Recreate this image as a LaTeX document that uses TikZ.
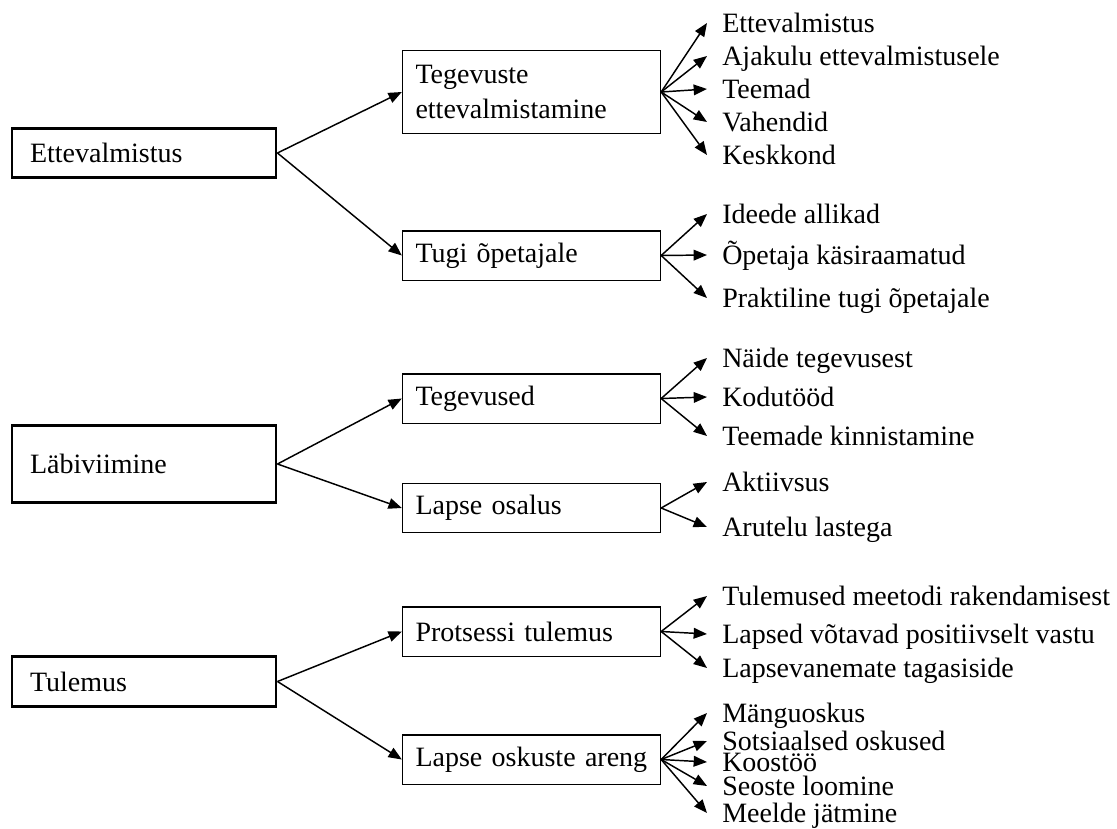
\documentclass[tikz,border=0pt]{standalone}
\usepackage{fontspec}
\setmainfont{Liberation Serif}
\usepackage{tikz}
\usetikzlibrary{arrows.meta}

\tikzset{
  every node/.style={font=\fontsize{21}{26}\selectfont},
  mainbox/.style={draw, line width=2.2pt, text width=171pt, inner xsep=13.5pt, align=left, minimum height=37pt},
  subbox/.style={draw, line width=1pt, text width=174pt, inner xsep=9.75pt, align=left, minimum height=37pt},
  item/.style={anchor=base west, inner xsep=11.25pt, inner ysep=0pt, text height=13.5pt, text depth=0pt},
  conn/.style={-{Triangle[length=10pt,width=8pt]}, line width=1.1pt},
}

\begin{document}
\begin{tikzpicture}[x=0.75pt,y=-0.75pt]
  \useasboundingbox (0,0) rectangle (1117,828);
  % esimene tase
  \node[mainbox] (ettev) at (144,153) {Ettevalmistus};
  \node[mainbox, minimum height=58pt] (labiv) at (144,464) {Läbiviimine};
  \node[mainbox] (tulem) at (144,681.5) {Tulemus};
  % teine tase
  \node[subbox, minimum height=62pt] (tegev) at (531.5,92) {Tegevuste\\ettevalmistamine};
  \node[subbox] (tugi) at (531.5,255.5) {Tugi õpetajale};
  \node[subbox] (tegus) at (531.5,398.5) {Tegevused};
  \node[subbox] (osal) at (531.5,508) {Lapse osalus};
  \node[subbox] (prots) at (531.5,631.5) {Protsessi tulemus};
  \node[subbox] (oskus) at (531.5,759.5) {Lapse oskuste areng};
  \draw[conn] (ettev.east) -- (tegev.west);
  \draw[conn] (ettev.east) -- (tugi.west);
  \draw[conn] (labiv.east) -- (tegus.west);
  \draw[conn] (labiv.east) -- (osal.west);
  \draw[conn] (tulem.east) -- (prots.west);
  \draw[conn] (tulem.east) -- (oskus.west);
  % kolmas tase
  \foreach \i/\y/\t in {1/32/Ettevalmistus, 2/65/Ajakulu ettevalmistusele, 3/98/Teemad, 4/131/Vahendid, 5/164/Keskkond}{
    \node[item] (a\i) at (707,\y) {\t};
    \draw[conn] (tegev.east) -- (a\i.west);
  }
  \foreach \i/\y/\t in {1/223/Ideede allikad, 2/264/Õpetaja käsiraamatud, 3/307/Praktiline tugi õpetajale}{
    \node[item] (b\i) at (707,\y) {\t};
    \draw[conn] (tugi.east) -- (b\i.west);
  }
  \foreach \i/\y/\t in {1/367/Näide tegevusest, 2/406/Kodutööd, 3/445/Teemade kinnistamine}{
    \node[item] (c\i) at (707,\y) {\t};
    \draw[conn] (tegus.east) -- (c\i.west);
  }
  \foreach \i/\y/\t in {1/491/Aktiivsus, 2/536/Arutelu lastega}{
    \node[item] (d\i) at (707,\y) {\t};
    \draw[conn] (osal.east) -- (d\i.west);
  }
  \foreach \i/\y/\t in {1/605/Tulemused meetodi rakendamisest, 2/643/Lapsed võtavad positiivselt vastu, 3/677/Lapsevanemate tagasiside}{
    \node[item] (e\i) at (707,\y) {\t};
    \draw[conn] (prots.east) -- (e\i.west);
  }
  \foreach \i/\y/\t in {1/722/Mänguoskus, 2/750/Sotsiaalsed oskused, 3/771/Koostöö, 4/795/Seoste loomine, 5/822/Meelde jätmine}{
    \node[item] (f\i) at (707,\y) {\t};
    \draw[conn] (oskus.east) -- (f\i.west);
  }
\end{tikzpicture}
\end{document}
